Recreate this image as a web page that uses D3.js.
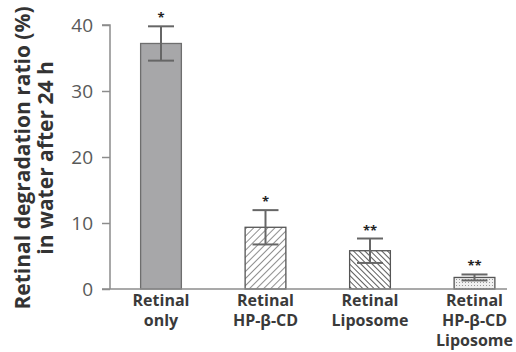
<!DOCTYPE html>
<html><head><meta charset="utf-8">
<script src="https://cdn.jsdelivr.net/npm/d3@7"></script>
<style>body{margin:0;background:#fff}svg{display:block}</style>
</head><body>
<svg id="c" width="516" height="352"></svg>
<script>
const categories = [["Retinal","only"],["Retinal","HP-β-CD"],["Retinal","Liposome"],["Retinal","HP-β-CD","Liposome"]];
const values = [37.2, 9.35, 5.8, 1.75];
const errors = [2.6, 2.6, 1.85, 0.45];
const marks = ["*", "*", "**", "**"];
const yTicks = [0, 10, 20, 30, 40];
const yTitle = ["Retinal degradation ratio (%)", "in water after 24 h"];

const svg = d3.select("#c");
const defs = svg.append("defs");
const p1 = defs.append("pattern").attr("id","h1").attr("patternUnits","userSpaceOnUse").attr("width",5).attr("height",5).attr("patternTransform","rotate(45)");
p1.append("rect").attr("width",5).attr("height",5).attr("fill","#fff");
p1.append("line").attr("x1",0).attr("y1",0).attr("x2",0).attr("y2",5).attr("stroke","#444").attr("stroke-width",1.2);
const p2 = defs.append("pattern").attr("id","h2").attr("patternUnits","userSpaceOnUse").attr("width",4).attr("height",4).attr("patternTransform","rotate(-45)");
p2.append("rect").attr("width",4).attr("height",4).attr("fill","#fff");
p2.append("line").attr("x1",0).attr("y1",0).attr("x2",0).attr("y2",4).attr("stroke","#333").attr("stroke-width",1.6);
const p3 = defs.append("pattern").attr("id","h3").attr("patternUnits","userSpaceOnUse").attr("width",3).attr("height",3);
p3.append("rect").attr("width",3).attr("height",3).attr("fill","#f0f0f0");
p3.append("rect").attr("width",1).attr("height",1).attr("fill","#999");
const fills = ["#a7a7a9", "url(#h1)", "url(#h2)", "url(#h3)"];

const x = d3.scaleBand().domain(d3.range(values.length)).range([108.75, 526.75]).paddingInner(0.61).paddingOuter(0.305);
const y = d3.scaleLinear().domain([0, 40]).range([289, 25]);

// y axis
const ya = svg.append("g").attr("transform","translate(110,0)")
  .call(d3.axisLeft(y).tickValues(yTicks).tickSize(8).tickPadding(9).tickFormat(d3.format("d")));
ya.select(".domain").attr("stroke","#8c8c8c").attr("stroke-width",1.5).attr("d","M-8,25H0V289");
ya.selectAll(".tick line").attr("stroke","#8c8c8c").attr("stroke-width",1.5);
ya.selectAll(".tick text").attr("fill","#595959").style("font-family","'Open Sans'").style("font-size","19px");

// bars
svg.append("g").selectAll("rect").data(values).join("rect")
  .attr("x",(d,i)=>x(i)).attr("width",x.bandwidth())
  .attr("y",d=>y(d)).attr("height",d=>y(0)-y(d))
  .attr("fill",(d,i)=>fills[i]).attr("stroke",(d,i)=>i===0?"#6e6e6e":"#555").attr("stroke-width",1.3);

// x axis
svg.append("line").attr("x1",102).attr("x2",507).attr("y1",y(0)).attr("y2",y(0)).attr("stroke","#8c8c8c").attr("stroke-width",1.5);

// error bars
const eg = svg.append("g").attr("stroke","#666").attr("stroke-width",2);
values.forEach((v,i)=>{
  const cx = x(i)+x.bandwidth()/2, e = errors[i];
  eg.append("line").attr("x1",cx).attr("x2",cx).attr("y1",y(v+e)).attr("y2",y(v-e));
  eg.append("line").attr("x1",cx-13).attr("x2",cx+13).attr("y1",y(v+e)).attr("y2",y(v+e));
  eg.append("line").attr("x1",cx-13).attr("x2",cx+13).attr("y1",y(v-e)).attr("y2",y(v-e));
});

// significance marks
svg.append("g").selectAll("text").data(marks).join("text")
  .attr("x",(d,i)=>x(i)+x.bandwidth()/2).attr("y",(d,i)=>y(values[i]+errors[i])-4)
  .attr("text-anchor","middle").style("font-family","'Open Sans'").style("font-size","13px").style("font-weight","bold").attr("fill","#222")
  .text(d=>d);

// category labels
const cl = svg.append("g").selectAll("text").data(categories).join("text")
  .attr("x",(d,i)=>x(i)+x.bandwidth()/2).attr("y",306).attr("text-anchor","middle")
  .style("font-family","'Open Sans'").style("font-size","16px").style("font-weight","bold").attr("fill","#3a3a3a");
cl.selectAll("tspan").data(d=>d).join("tspan").attr("x",function(){return this.parentNode.getAttribute("x");})
  .attr("dy",(d,j)=>j===0?0:20).text(d=>d);

// y title
const yt = svg.append("text").attr("transform","translate(0,158) rotate(-90)").attr("text-anchor","middle")
  .style("font-family","'Open Sans'").style("font-size","21px").style("font-weight","bold").attr("fill","#333");
yt.selectAll("tspan").data(yTitle).join("tspan").attr("x",0).attr("y",(d,j)=>30+j*23).text(d=>d);
</script>
</body></html>
